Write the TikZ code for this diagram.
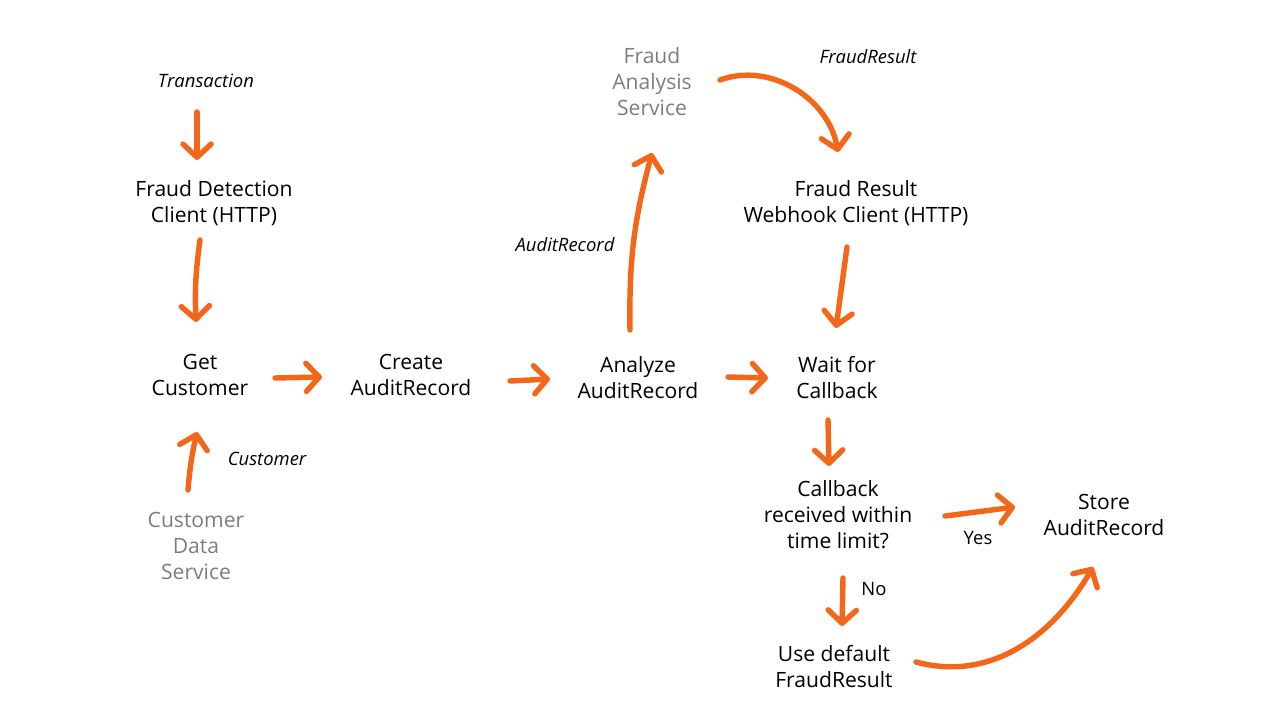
\documentclass[tikz,border=0pt]{standalone}
\usepackage{fontspec}
\setmainfont{Open Sans}
\usepackage{xcolor}
\usepackage{tikz}
\usetikzlibrary{arrows.meta}
\definecolor{floworange}{RGB}{243,103,26}
\definecolor{servicegray}{RGB}{125,125,125}

\begin{document}
\begin{tikzpicture}[x=0.02cm,y=0.02cm,
		flow/.style={line width=3.1pt,floworange,line cap=round,-{Straight Barb[length=7.5pt,width=16pt,round]}},
		task/.style={align=center,inner sep=0pt,font=\fontsize{12}{14.8}\selectfont},
		service/.style={task,text=servicegray},
		msg/.style={inner sep=0pt,font=\fontsize{10.5}{12}\selectfont\itshape}]
				\useasboundingbox (0,0) rectangle (1280,-720);
				\node[msg] (tx) at (206,-81) {Transaction};
				\node[task] (fdc) at (214,-203) {Fraud Detection\\Client (HTTP)};
				\node[task] (get) at (200,-375) {Get\\Customer};
				\node[task] (create) at (411,-375) {Create\\AuditRecord};
				\node[task] (analyze) at (638,-378) {Analyze\\AuditRecord};
				\node[task] (wait) at (837,-378) {Wait for\\Callback};
				\node[service] (fas) at (652,-82) {Fraud\\Analysis\\Service};
				\node[msg] (fr) at (868,-57) {FraudResult};
				\node[task] (frwc) at (856,-203) {Fraud Result\\Webhook Client (HTTP)};
				\node[msg] (ar) at (565,-245) {AuditRecord};
				\node[service] (cds) at (196,-546) {Customer\\Data\\Service};
				\node[msg] (cust) at (267,-459) {Customer};
				\node[task] (cb) at (838,-515) {Callback\\received within\\time limit?};
				\node[task] (store) at (1104,-515) {Store\\AuditRecord};
				\node[task] (usedef) at (834,-667) {Use default\\FraudResult};
				\node[inner sep=0pt,font=\fontsize{10.5}{12}\selectfont] (yes) at (978,-538) {Yes};
				\node[inner sep=0pt,font=\fontsize{10.5}{12}\selectfont] (no) at (874,-589) {No};
				\draw[flow] ([shift={(-9,-31)}]tx.center) -- ([shift={(-17,43)}]fdc.center);
				\draw[flow] ([shift={(-14,-37)}]fdc.center) to[bend right=5] ([shift={(-4,53)}]get.center);
				\draw[flow] ([shift={(-8,56)}]cds.center) to[bend left=4] ([shift={(-3,-57)}]get.center);
				\draw[flow] ([shift={(75,-3)}]get.center) -- ([shift={(-89,-2)}]create.center);
				\draw[flow] ([shift={(99,-6)}]create.center) -- ([shift={(-88,-1)}]analyze.center);
				\draw[flow] ([shift={(90,1)}]analyze.center) -- ([shift={(-69,0)}]wait.center);
				\draw[flow] ([shift={(-8,48)}]analyze.center) to[bend left=8] ([shift={(0,-71)}]fas.center);
				\draw[flow] ([shift={(68,2)}]fas.center) to[out=20,in=100] ([shift={(-18,51)}]frwc.center);
				\draw[flow] ([shift={(-9,-44)}]frwc.center) -- ([shift={(-1,50)}]wait.center);
				\draw[flow] ([shift={(-9,-42)}]wait.center) -- ([shift={(-9,49)}]cb.center);
				\draw[flow] ([shift={(107,-1)}]cb.center) -- ([shift={(-89,8)}]store.center);
				\draw[flow] ([shift={(5,-63)}]cb.center) -- ([shift={(8,41)}]usedef.center);
				\draw[flow] ([shift={(82,5)}]usedef.center) to[out=-15,in=240] ([shift={(-11,-52)}]store.center);
			\end{tikzpicture}
\end{document}
